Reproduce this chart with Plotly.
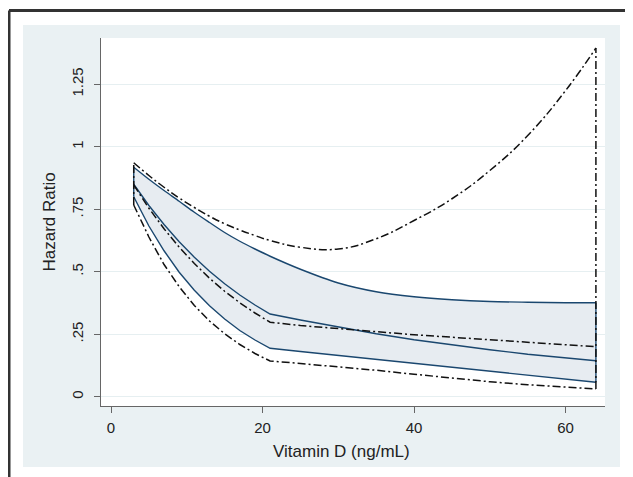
import plotly.graph_objects as go

vitamin_d = [3, 5, 7, 9, 11, 13, 15, 17, 19, 21, 25, 30, 35, 40, 45, 50, 55, 60, 64]

hr_blue_upper = [0.918, 0.870, 0.825, 0.782, 0.738, 0.697, 0.657, 0.622, 0.591, 0.562,
                 0.510, 0.455, 0.420, 0.400, 0.388, 0.381, 0.378, 0.376, 0.376]
hr_blue_mid = [0.850, 0.765, 0.689, 0.620, 0.558, 0.502, 0.452, 0.407, 0.367, 0.331,
               0.307, 0.278, 0.252, 0.228, 0.207, 0.188, 0.170, 0.154, 0.144]
hr_blue_lower = [0.800, 0.683, 0.584, 0.498, 0.426, 0.364, 0.311, 0.265, 0.227, 0.194,
                 0.181, 0.165, 0.149, 0.133, 0.117, 0.101, 0.086, 0.071, 0.058]

hr_dd_upper = [0.936, 0.885, 0.838, 0.795, 0.757, 0.722, 0.692, 0.667, 0.645, 0.625,
               0.598, 0.591, 0.632, 0.705, 0.792, 0.905, 1.045, 1.225, 1.395]
hr_dd_mid = [0.847, 0.754, 0.672, 0.598, 0.533, 0.474, 0.422, 0.376, 0.335, 0.298,
             0.285, 0.272, 0.260, 0.248, 0.238, 0.228, 0.218, 0.208, 0.200]
hr_dd_lower = [0.767, 0.639, 0.529, 0.440, 0.365, 0.303, 0.252, 0.209, 0.173, 0.143,
               0.133, 0.120, 0.106, 0.090, 0.074, 0.060, 0.048, 0.038, 0.031]

x_ticks = [0, 20, 40, 60]
y_ticks = [0, 0.25, 0.5, 0.75, 1, 1.25]
y_tick_labels = ["0", ".25", ".5", ".75", "1", "1.25"]

NAVY = "#1a476f"
FILL = "#e7ecf1"
DD = "8px,3px,2px,3px"
FONT = "Liberation Sans, Arial, sans-serif"

fig = go.Figure()

# shaded band (model 1)
fig.add_trace(go.Scatter(
    x=vitamin_d + vitamin_d[::-1], y=hr_blue_upper + hr_blue_lower[::-1],
    fill="toself", fillcolor=FILL, line=dict(width=0), mode="lines",
    hoverinfo="skip", showlegend=False))
fig.add_trace(go.Scatter(x=vitamin_d, y=hr_blue_upper, mode="lines",
                         line=dict(color=NAVY, width=1.4, shape="spline", smoothing=0.8),
                         showlegend=False))
fig.add_trace(go.Scatter(x=vitamin_d, y=hr_blue_lower, mode="lines",
                         line=dict(color=NAVY, width=1.4), showlegend=False))
fig.add_trace(go.Scatter(x=vitamin_d, y=hr_blue_mid, mode="lines",
                         line=dict(color=NAVY, width=1.4), showlegend=False))
fig.add_trace(go.Scatter(
    x=[vitamin_d[0], vitamin_d[0], None, vitamin_d[-1], vitamin_d[-1]],
    y=[hr_blue_lower[0], hr_blue_upper[0], None, hr_blue_lower[-1], hr_blue_upper[-1]],
    mode="lines", line=dict(color=NAVY, width=1.4), showlegend=False))

# dash-dot band (model 2)
fig.add_trace(go.Scatter(x=vitamin_d, y=hr_dd_upper, mode="lines",
                         line=dict(color="#111", width=1.5, dash=DD, shape="spline", smoothing=1.3),
                         showlegend=False))
fig.add_trace(go.Scatter(x=vitamin_d, y=hr_dd_lower, mode="lines",
                         line=dict(color="#111", width=1.5, dash=DD), showlegend=False))
fig.add_trace(go.Scatter(x=vitamin_d, y=hr_dd_mid, mode="lines",
                         line=dict(color="#111", width=1.5, dash=DD), showlegend=False))
fig.add_trace(go.Scatter(
    x=[vitamin_d[0], vitamin_d[0], None, vitamin_d[-1], vitamin_d[-1]],
    y=[hr_dd_lower[0], hr_dd_upper[0], None, hr_dd_lower[-1], hr_dd_upper[-1]],
    mode="lines", line=dict(color="#111", width=1.5, dash=DD), showlegend=False))

# page body has an 8px margin: place the figure so the window coordinates match
OFF = 8
W, H = 633 - OFF, 477 - OFF
L, T = 101 - OFF, 38 - OFF
R = 633 - 605
B = 477 - 406
pw, ph = W - L - R, H - T - B

def px(xw):
    return (xw - OFF - L) / pw

def py(yw):
    return (H - B - (yw - OFF)) / ph

shapes = [
    dict(type="rect", xref="paper", yref="paper", layer="below",
         x0=px(23), x1=px(620), y0=py(467), y1=py(25),
         fillcolor="#eaf1f3", line=dict(width=0)),
    dict(type="rect", xref="paper", yref="paper", layer="below",
         x0=0, x1=1, y0=0, y1=1, fillcolor="white", line=dict(width=0)),
    dict(type="line", xref="paper", yref="paper", x0=px(9), x1=px(660),
         y0=py(10.5), y1=py(10.5), line=dict(color="#333", width=3)),
    dict(type="line", xref="paper", yref="paper", x0=px(9), x1=px(9),
         y0=py(10.5), y1=py(500), line=dict(color="#333", width=3)),
]

annotations = [
    dict(text="Hazard Ratio", xref="paper", yref="paper", x=px(49), y=py(222.5),
         textangle=-90, showarrow=False, font=dict(size=17, color="#222", family=FONT),
         xanchor="center", yanchor="middle"),
    dict(text="Vitamin D (ng/mL)", xref="paper", yref="paper", x=px(341), y=py(451),
         showarrow=False, font=dict(size=17, color="#222", family=FONT),
         xanchor="center", yanchor="middle"),
]

fig.update_layout(
    width=W, height=H, margin=dict(l=L, r=R, t=T, b=B, autoexpand=False),
    paper_bgcolor="white", plot_bgcolor="white",
    shapes=shapes, annotations=annotations,
    font=dict(family=FONT, size=15, color="#222"),
    xaxis=dict(range=[-1.32, 65.2], tickvals=x_ticks, ticks="outside", ticklen=6,
               tickcolor="#666", showline=True, linecolor="#666", linewidth=1,
               showgrid=False, zeroline=False, tickfont=dict(size=15),
               ticklabelstandoff=2),
    yaxis=dict(range=[-0.037, 1.435], tickvals=y_ticks, ticktext=y_tick_labels,
               tickangle=-90, ticks="outside", ticklen=6, tickcolor="#666",
               showline=True, linecolor="#666", linewidth=1,
               showgrid=True, gridcolor="#e6eff1", gridwidth=1, zeroline=False,
               tickfont=dict(size=15), ticklabelstandoff=5),
)

fig.write_html("out.html")
